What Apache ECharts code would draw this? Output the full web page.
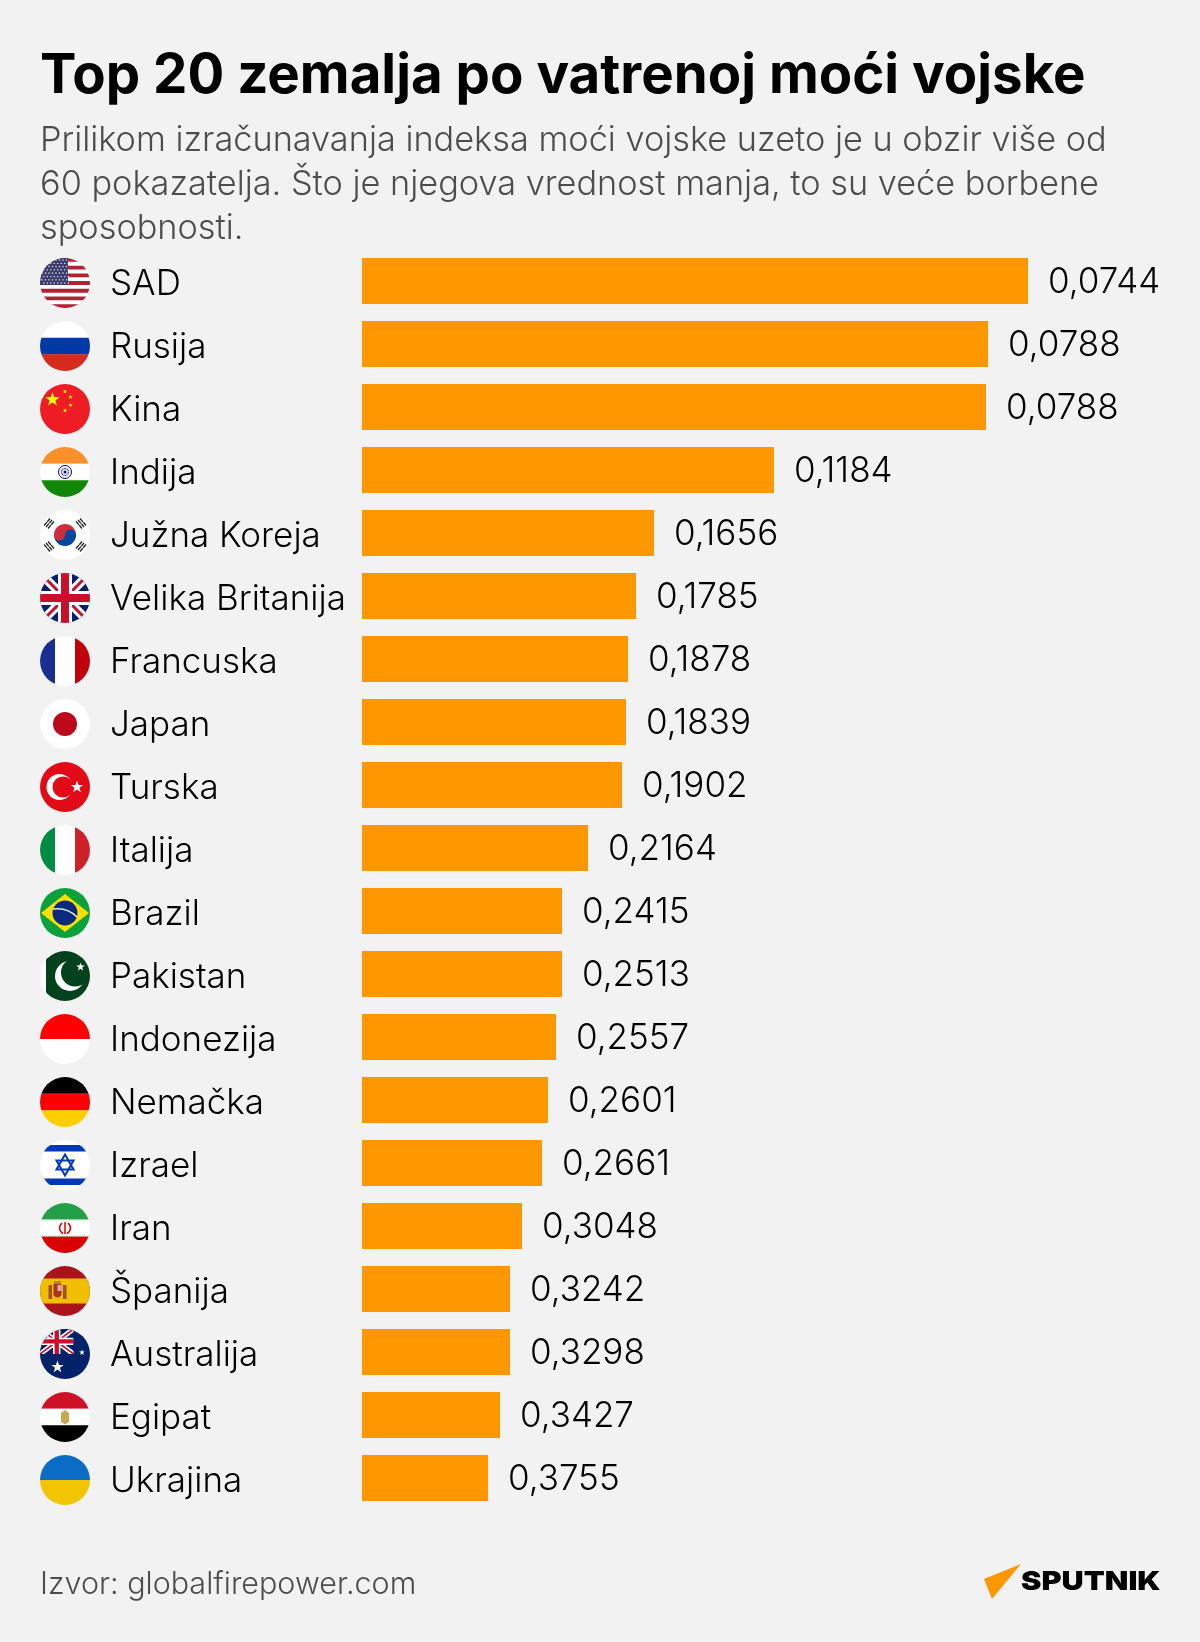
<!DOCTYPE html>
<html><head><meta charset="utf-8">
<style>html,body{margin:0;padding:0;background:#f2f2f2}#c{width:1200px;height:1642px}</style>
<script src="https://cdn.jsdelivr.net/npm/echarts@6/dist/echarts.min.js"></script>
</head><body><div id="c"></div>
<script>
const categories=['SAD','Rusija','Kina','Indija','Južna Koreja','Velika Britanija','Francuska','Japan','Turska','Italija','Brazil','Pakistan','Indonezija','Nemačka','Izrael','Iran','Španija','Australija','Egipat','Ukrajina'];
const valueLabels=['0,0744','0,0788','0,0788','0,1184','0,1656','0,1785','0,1878','0,1839','0,1902','0,2164','0,2415','0,2513','0,2557','0,2601','0,2661','0,3048','0,3242','0,3298','0,3427','0,3755'];
// drawn bar lengths (the source bars do not scale with the printed index)
const barLengths=[666,626,624,412,292,274,266,264,260,226,200,200,194,186,180,160,148,148,138,126];
const titleText='Top 20 zemalja po vatrenoj moći vojske';
const subtitleText='Prilikom izračunavanja indeksa moći vojske uzeto je u obzir više od\n60 pokazatelja. Što je njegova vrednost manja, to su veće borbene\nsposobnosti.';
const sourceText='Izvor: globalfirepower.com';
const brandText='SPUTNIK';

const star=(cx,cy,r,fill)=>{let p=[];for(let i=0;i<10;i++){const a=-Math.PI/2+i*Math.PI/5,q=i%2?r*0.4:r;p.push((cx+q*Math.cos(a)).toFixed(2)+','+(cy+q*Math.sin(a)).toFixed(2));}return `<polygon points="${p.join(' ')}" fill="${fill}"/>`;};
const hb=(cols)=>{const h=100/cols.length;return cols.map((c,i)=>`<rect x="0" y="${i*h}" width="100" height="${h+0.2}" fill="${c}"/>`).join('');};
const usStripes=()=>{let s='<rect width="100" height="100" fill="#fff"/>';for(let i=0;i<7;i++)s+=`<rect y="${i*15.4}" width="100" height="7.7" fill="#b22234"/>`;s+='<rect width="56" height="53.9" fill="#3c3b6e"/>';for(let r=0;r<8;r++)for(let c=0;c<8;c++)s+=star(4+c*7+(r%2?3.5:0),4+r*6.6,2.2,'#fff');return s;};
const ukCross=(bg)=>`<rect width="100" height="100" fill="${bg}"/><path d="M0 0L100 100M100 0L0 100" stroke="#fff" stroke-width="18"/><path d="M0 0L100 100M100 0L0 100" stroke="#c8102e" stroke-width="6"/><path d="M50 0V100M0 50H100" stroke="#fff" stroke-width="28"/><path d="M50 0V100M0 50H100" stroke="#c8102e" stroke-width="16"/>`;
const flagBodies=[
 usStripes(),
 hb(['#fff','#0039a6','#d52b1e']),
 `<rect width="100" height="100" fill="#ee1c25"/>`+star(25,31,15,'#ffff00')+star(50,15,4.5,'#ffff00')+star(61,26,4.5,'#ffff00')+star(61,42,4.5,'#ffff00')+star(50,53,4.5,'#ffff00'),
 hb(['#ff8f2b','#fff','#138808'])+`<circle cx="50" cy="50" r="13" fill="none" stroke="#000080" stroke-width="2"/><circle cx="50" cy="50" r="7" fill="none" stroke="#000080" stroke-width="3" stroke-dasharray="1.5 1.5"/><circle cx="50" cy="50" r="3" fill="#000080"/>`,
 `<rect width="100" height="100" fill="#fff"/><path d="M28 50a22 22 0 0 1 44 0z" fill="#cd2e3a"/><path d="M28 50a22 22 0 0 0 44 0z" fill="#0047a0"/><circle cx="39" cy="50" r="11" fill="#cd2e3a"/><circle cx="61" cy="50" r="11" fill="#0047a0"/><g stroke="#222" stroke-width="2.6" stroke-dasharray="9 1"><path d="M8 31L20 17M12 34L24 20M16 37L28 23"/><path d="M72 23L84 37M76 20L88 34M80 17L92 31"/><path d="M8 69L20 83M12 66L24 80M16 63L28 77"/><path d="M72 77L84 63M76 80L88 66M80 83L92 69"/></g>`,
 ukCross('#012169'),
 `<rect width="100" height="100" fill="#fff"/><rect width="30" height="100" fill="#1a2f8f"/><rect x="70" width="30" height="100" fill="#c0000b"/>`,
 `<rect width="100" height="100" fill="#fff"/><circle cx="50" cy="50" r="24" fill="#bc0a1c"/>`,
 `<rect width="100" height="100" fill="#e30a17"/><circle cx="39" cy="50" r="26" fill="#fff"/><circle cx="46" cy="50" r="21" fill="#e30a17"/>`+star(74,50,13,'#fff'),
 `<rect width="100" height="100" fill="#fff"/><rect width="30" height="100" fill="#008c45"/><rect x="70" width="30" height="100" fill="#cd212a"/>`,
 `<rect width="100" height="100" fill="#0aa03c"/><polygon points="50,12 98,50 50,88 2,50" fill="#ffdf00"/><circle cx="50" cy="50" r="25" fill="#0a2a7e"/><path d="M26 42Q55 38 74 58" stroke="#dfe8e0" stroke-width="3" fill="none"/>`,
 `<rect width="100" height="100" fill="#fff"/><rect x="12" width="88" height="100" fill="#01411c"/><circle cx="60" cy="50" r="30" fill="#fff"/><circle cx="70" cy="43" r="28" fill="#01411c"/>`+star(81,32,9,'#fff'),
 hb(['#ff0000','#fff']),
 hb(['#000','#ff0000','#ffce00']),
 `<rect width="100" height="100" fill="#fff"/><rect y="10" width="100" height="13" fill="#0038b8"/><rect y="77" width="100" height="13" fill="#0038b8"/><g fill="none" stroke="#0038b8" stroke-width="4"><polygon points="50,29 67,59 33,59"/><polygon points="50,71 67,41 33,41"/></g>`,
 hb(['#23a047','#fff','#da0000'])+`<path d="M0 33.5H100M0 66.5H100" stroke="#a9d9b6" stroke-width="3" stroke-dasharray="2 1.5"/><g fill="none" stroke="#da0000" stroke-width="3"><path d="M50 38V62"/><path d="M44 40C36 47 39 58 46 61"/><path d="M56 40C64 47 61 58 54 61"/></g>`,
 `<rect width="100" height="100" fill="#aa151b"/><rect y="25" width="100" height="50" fill="#f1bf00"/><rect x="17" y="38" width="7" height="28" fill="#a0522d"/><rect x="46" y="38" width="7" height="28" fill="#a0522d"/><path d="M27 36H43V58Q35 68 27 58Z" fill="#a8341f"/><rect x="35" y="38" width="8" height="12" fill="#dba6b8"/><rect x="28" y="30" width="14" height="6" fill="#b5852c"/>`,
 `<rect width="100" height="100" fill="#012169"/><svg x="0" y="0" width="67" height="50" viewBox="0 0 100 75" preserveAspectRatio="none"><rect width="100" height="75" fill="#012169"/><path d="M0 0L100 75M100 0L0 75" stroke="#fff" stroke-width="15"/><path d="M0 0L100 75M100 0L0 75" stroke="#c8102e" stroke-width="5"/><path d="M50 0V75M0 37H100" stroke="#fff" stroke-width="22"/><path d="M50 0V75M0 37H100" stroke="#c8102e" stroke-width="13"/></svg>`+star(35,76,13,'#fff')+star(84,47,6,'#fff'),
 hb(['#ce1126','#fff','#000'])+`<path d="M50 36L58 42V60L50 65L42 60V42Z" fill="#c8a951"/>`,
 hb(['#0a6cc4','#f2c500'])
];
const flagSvg=b=>'data:image/svg+xml;charset=utf-8,'+encodeURIComponent(`<svg xmlns="http://www.w3.org/2000/svg" width="200" height="200" viewBox="0 0 100 100"><defs><clipPath id="k"><circle cx="50" cy="50" r="50"/></clipPath></defs><g clip-path="url(#k)">${b}</g></svg>`);

const FONT='Inter';
const rich={name:{fontFamily:FONT,fontWeight:300,fontSize:35,color:'#000',padding:[2,0,0,20]}};
flagBodies.forEach((b,i)=>{rich['f'+i]={width:50,height:50,backgroundColor:{image:flagSvg(b)}};});

const chart=echarts.init(document.getElementById('c'),null,{renderer:'canvas'});
chart.setOption({
 backgroundColor:'#f2f2f2',
 animation:false,
 title:[
  {text:titleText,left:40,top:44,textStyle:{fontFamily:FONT,fontWeight:700,fontSize:54.6,color:'#000',lineHeight:66},padding:0},
  {text:subtitleText,left:40,top:118.5,textStyle:{fontFamily:FONT,fontWeight:300,fontSize:34.3,color:'#4d4d4d',lineHeight:44},padding:0},
  {text:sourceText,left:40,top:1567,textStyle:{fontFamily:FONT,fontWeight:300,fontSize:30.5,color:'#4d4d4d',lineHeight:36},padding:0}
 ],
 grid:{left:362,top:249.5,width:838,height:1260,containLabel:false},
 xAxis:{type:'value',min:0,max:838,show:false},
 yAxis:{type:'category',inverse:true,data:categories,
  axisLine:{show:false},axisTick:{show:false},
  axisLabel:{interval:0,align:'left',margin:322,padding:[4,0,0,0],
   formatter:(v,i)=>`{f${i}|}{name|${v}}`,rich}},
 series:[{type:'bar',data:barLengths,barWidth:46,itemStyle:{color:'#ff9800'},
  label:{show:true,position:'right',distance:20,offset:[0,1],fontFamily:FONT,fontWeight:300,fontSize:35,color:'#000',
   formatter:p=>valueLabels[p.dataIndex]}}],
 graphic:[
  {type:'polygon',shape:{points:[[1021,1564],[984,1579],[992,1599]]},style:{fill:'#ff9800'},silent:true},
  {type:'text',x:1021,y:1569,scaleX:1.18,style:{text:brandText,fontFamily:'Inter',fontWeight:900,fontSize:26,fill:'#000'},silent:true}
 ]
});
</script></body></html>
